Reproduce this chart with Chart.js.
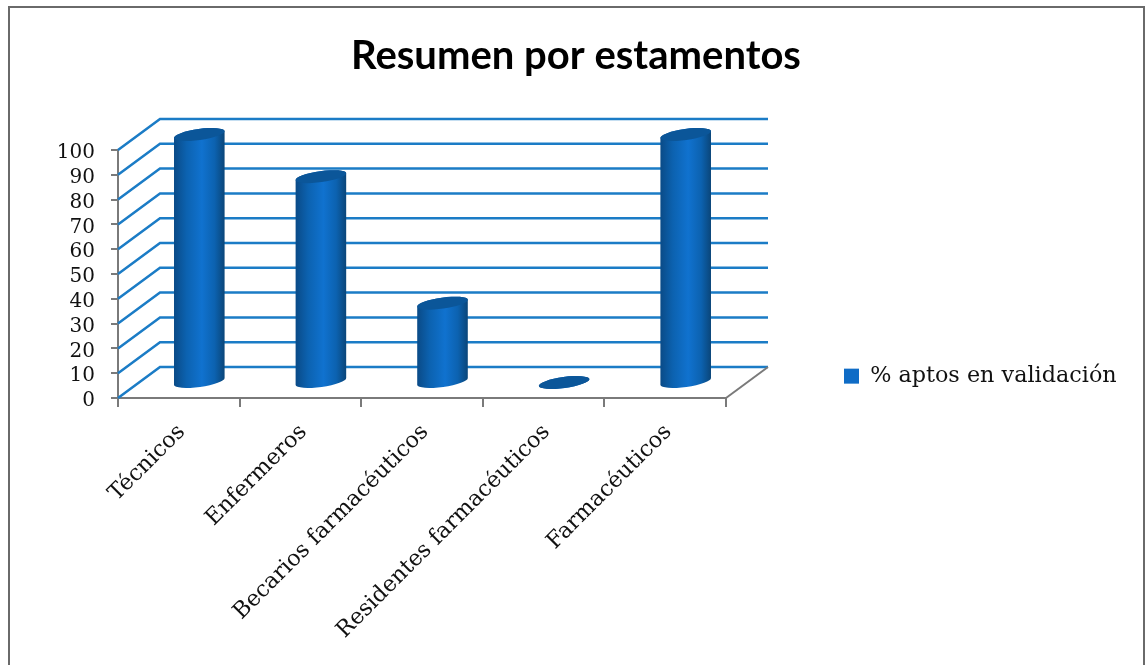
<!DOCTYPE html>
<html>
<head>
<meta charset="utf-8">
<style>
  html, body { margin: 0; padding: 0; background: #fff; overflow: hidden; }
  #frame { position: absolute; left: 8px; top: 6px; width: 1133px; height: 670px; border: 2px solid #6a6a6a; }
  canvas { position: absolute; left: 0; top: 0; }
</style>
<script src="https://cdn.jsdelivr.net/npm/chart.js@4/dist/chart.umd.js"></script>
</head>
<body>
<div id="frame"></div>
<canvas id="chart" width="1146" height="665"></canvas>
<script>
const categories = ['Técnicos', 'Enfermeros', 'Becarios farmacéuticos', 'Residentes farmacéuticos', 'Farmacéuticos'];
const aptos = [100, 83, 32, 0, 100];
const seriesName = '% aptos en validación';

// fondo "3D": desplazamiento de la pared trasera respecto al eje frontal
const depthX = 42;
const depthY = 31;
const tilt = -8 * Math.PI / 180;

const gridBlue = '#1b7cc6';
const axisGrey = '#7a7a7a';
const serif = '"DejaVu Serif", serif';

// barra cilindrica: misma geometria que BarElement, otro dibujo
class CylinderElement extends Chart.BarElement {
  draw(ctx) {
    const { x, y, base, width } = this.getProps(['x', 'y', 'base', 'width'], true);
    const cx = x + depthX / 2 - 0.5;
    const top = y - depthY / 2;
    const bottom = base - depthY / 2;
    const rx = width / 2;
    const ry = 5.5;

    const grad = ctx.createLinearGradient(cx - rx, 0, cx + rx, 0);
    grad.addColorStop(0, '#0a4a86');
    grad.addColorStop(0.25, '#0c62b0');
    grad.addColorStop(0.55, '#1072cf');
    grad.addColorStop(0.8, '#0c62b0');
    grad.addColorStop(1, '#0a4578');

    ctx.save();
    ctx.beginPath();
    ctx.ellipse(cx, bottom, rx, ry, tilt, 0, Math.PI);
    ctx.ellipse(cx, top, rx, ry, tilt, Math.PI, 2 * Math.PI);
    ctx.closePath();
    ctx.fillStyle = grad;
    ctx.fill();

    ctx.beginPath();
    ctx.ellipse(cx, top, rx, ry, tilt, 0, 2 * Math.PI);
    ctx.fillStyle = '#0b5699';
    ctx.fill();
    ctx.restore();
  }
}
CylinderElement.id = 'cylinder';
CylinderElement.defaults = Chart.BarElement.defaults;
CylinderElement.defaultRoutes = Chart.BarElement.defaultRoutes;

class CylinderController extends Chart.BarController {}
CylinderController.id = 'cylinderBar';
CylinderController.defaults = { ...Chart.BarController.defaults, dataElementType: 'cylinder' };
CylinderController.overrides = Chart.BarController.overrides;

Chart.register(CylinderElement, CylinderController);

// paredes y suelo, dibujados a partir de las escalas
const wallsPlugin = {
  id: 'walls',
  afterLayout(chart) {
    // la leyenda va fuera del area del grafico, a la altura del suelo
    const legend = chart.legend;
    legend.left = 834;
    legend.right = 1146;
    legend.top = 355;
    legend.bottom = 400;
    // titulo centrado en todo el lienzo
    chart.titleBlock.left = 0;
    chart.titleBlock.right = 1152;
  },
  beforeDatasetsDraw(chart) {
    const { ctx, chartArea, scales: { y } } = chart;
    const left = chartArea.left;
    const right = chartArea.right;
    ctx.save();
    ctx.lineWidth = 2.5;
    ctx.strokeStyle = gridBlue;
    y.ticks.forEach(t => {
      const py = y.getPixelForValue(t.value);
      ctx.beginPath();
      ctx.moveTo(left, py);
      ctx.lineTo(left + depthX, py - depthY);
      ctx.lineTo(right + depthX, py - depthY);
      ctx.stroke();
    });
    const py0 = y.getPixelForValue(0);
    ctx.strokeStyle = axisGrey;
    ctx.lineWidth = 2;
    ctx.beginPath();
    ctx.moveTo(right, py0);
    ctx.lineTo(right + depthX, py0 - depthY);
    ctx.stroke();
    ctx.restore();
  }
};

new Chart(document.getElementById('chart'), {
  type: 'cylinderBar',
  data: {
    labels: categories,
    datasets: [{
      label: seriesName,
      data: aptos,
      backgroundColor: '#0f6cc6',
      borderWidth: 0,
      categoryPercentage: 0.42,
      barPercentage: 1,
      clip: false
    }]
  },
  options: {
    responsive: false,
    animation: false,
    layout: { padding: { left: 0, right: 420, top: 0, bottom: 0 } },
    plugins: {
      title: {
        display: true,
        text: 'Resumen por estamentos',
        color: '#000',
        font: { family: 'Lato', size: 40, weight: 'bold', lineHeight: 1.2 },
        padding: { top: 32, bottom: 70 }
      },
      legend: {
        position: 'chartArea',
        align: 'start',
        labels: {
          boxWidth: 15,
          boxHeight: 15,
          padding: 10,
          color: '#111',
          font: { family: serif, size: 22.3 }
        }
      },
      tooltip: { enabled: false }
    },
    scales: {
      x: {
        afterFit: s => { s.height = 267; },
        grid: { drawOnChartArea: false, color: axisGrey, lineWidth: 2, tickLength: 9 },
        border: { color: axisGrey, width: 2 },
        ticks: {
          minRotation: 45,
          maxRotation: 45,
          padding: 12,
          labelOffset: 3,
          color: '#111',
          font: { family: serif, size: 22.3 }
        }
      },
      y: {
        min: 0,
        max: 100,
        afterFit: s => { s.width = 118; },
        grid: { drawOnChartArea: false, color: axisGrey, lineWidth: 2, tickLength: 7 },
        border: { color: axisGrey, width: 2 },
        ticks: {
          stepSize: 10,
          autoSkip: false,
          padding: 16,
          labelOffset: 3,
          color: '#111',
          font: { family: serif, size: 20 }
        }
      }
    }
  },
  plugins: [wallsPlugin]
});
</script>
</body>
</html>
